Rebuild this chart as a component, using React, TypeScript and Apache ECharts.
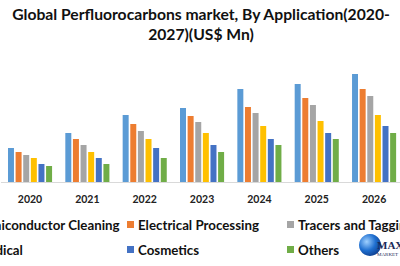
import React, { useEffect, useRef } from "react";
import * as echarts from "echarts";

const years = ["2020", "2021", "2022", "2023", "2024", "2025", "2026"];
const seriesNames = [
  "Semiconductor Cleaning",
  "Electrical Processing",
  "Tracers and Tagging",
  "Medical",
  "Cosmetics",
  "Others",
];
const semiconductorCleaning = [34, 49, 67, 74, 93, 98, 108];
const electricalProcessing = [30, 43, 58, 66, 75, 84, 93];
const tracersAndTagging = [27, 37, 51, 60, 69, 77, 86];
const medical = [24, 30, 43, 49, 56, 61, 67];
const cosmetics = [18, 24, 34, 37, 43, 49, 56];
const others = [16, 18, 24, 30, 37, 43, 49];
const allValues = [semiconductorCleaning, electricalProcessing, tracersAndTagging, medical, cosmetics, others];
const colors = ["#5B9BD5", "#ED7D31", "#A5A5A5", "#FFC000", "#4472C4", "#70AD47"];

const SHIFT = 40;
const FONT = "Lato, 'Open Sans', sans-serif";

export default function App() {
  const ref = useRef<HTMLDivElement>(null);
  useEffect(() => {
    if (!ref.current) return;
    const chart = echarts.init(ref.current, undefined, { renderer: "svg" });
    const legendPos = [
      [-35, 218], [127, 218], [287, 218],
      [-35, 243], [127, 243], [287, 243],
    ];
    chart.setOption({
      animation: false,
      color: colors,
      title: {
        text: "Global Perfluorocarbons market, By Application(2020-\n2027)(US$ Mn)",
        left: SHIFT + 201,
        textAlign: "center",
        top: 4,
        padding: 0,
        textStyle: { fontFamily: FONT, fontWeight: "bold", fontSize: 15.7, color: "#111", lineHeight: 20 },
      },
      legend: seriesNames.map((n, i) => ({
        data: [n],
        left: SHIFT + legendPos[i][0],
        top: legendPos[i][1],
        itemWidth: 7,
        itemHeight: 7,
        icon: "rect",
        padding: 0,
        textStyle: { fontFamily: FONT, fontWeight: "bold", fontSize: 13.3, color: "#111", padding: [0, 0, 0, -1] },
      })),
      grid: { left: SHIFT + 1.35, width: 401.4, top: 62, height: 120, containLabel: false },
      xAxis: {
        type: "category",
        data: years,
        axisLine: { lineStyle: { color: "#D9D9D9", width: 1 } },
        axisTick: { show: false },
        axisLabel: { fontFamily: FONT, fontWeight: "bold", fontSize: 10.5, color: "#222", margin: 11 },
      },
      yAxis: { type: "value", min: 0, max: 120, show: false, splitLine: { show: false } },
      series: seriesNames.map((n, i) => ({
        name: n,
        type: "bar",
        data: allValues[i],
        barWidth: 6,
        barGap: "27%",
      })),
      graphic: [
        {
          type: "circle",
          shape: { cx: SHIFT + 370, cy: 245, r: 11 },
          style: {
            fill: new echarts.graphic.RadialGradient(0.35, 0.35, 0.8, [
              { offset: 0, color: "#9fd0ff" },
              { offset: 0.5, color: "#1f6fd0" },
              { offset: 1, color: "#0a2f7a" },
            ]),
          },
        },
        {
          type: "text",
          x: SHIFT + 377,
          y: 239,
          style: { text: "MAX", fill: "#1a2a5a", font: "bold 11px serif" },
        },
        {
          type: "text",
          x: SHIFT + 377,
          y: 252,
          style: { text: "MARKET", fill: "#1a2a5a", font: "5px serif" },
        },
      ],
    });
    return () => chart.dispose();
  }, []);
  return (
    <div style={{ position: "fixed", left: 0, top: 0, width: 400, height: 266, overflow: "hidden", background: "#fff" }}>
      <div ref={ref} style={{ position: "absolute", left: -SHIFT, top: 0, width: 480, height: 266 }} />
    </div>
  );
}
